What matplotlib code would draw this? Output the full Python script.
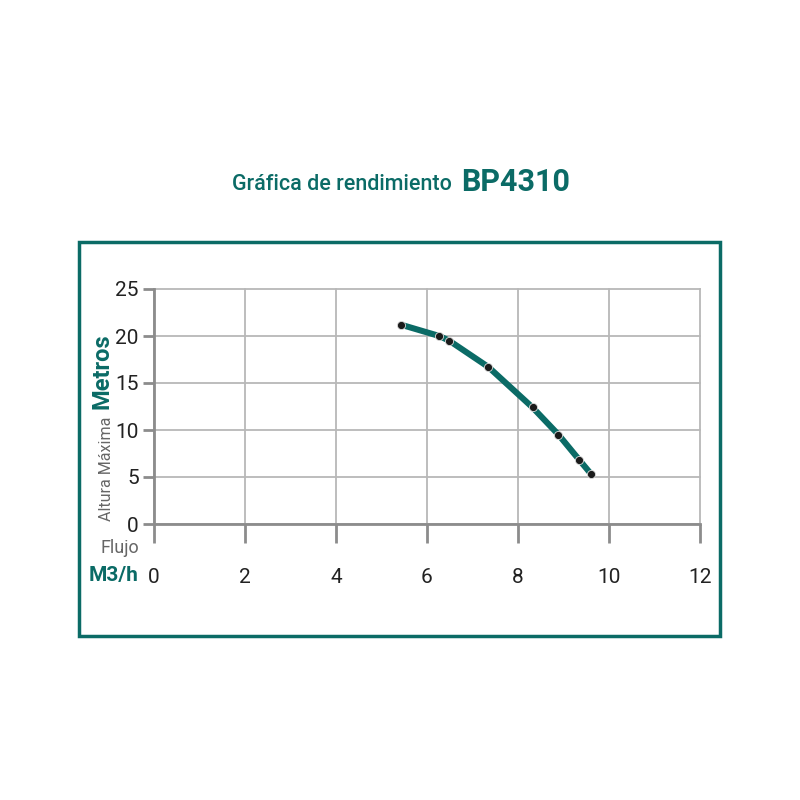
import matplotlib
matplotlib.use("Agg")
import matplotlib.pyplot as plt
from matplotlib.patches import Rectangle

# data
flow = [5.43, 6.27, 6.49, 7.35, 8.32, 8.89, 9.35, 9.60]
height = [21.2, 20.0, 19.5, 16.7, 12.4, 9.5, 6.8, 5.35]
x_ticks = [0, 2, 4, 6, 8, 10, 12]
y_ticks = [0, 5, 10, 15, 20, 25]

teal = "#0b6b66"
grey = "#8c8c8c"

plt.rcParams["font.family"] = ["Roboto", "DejaVu Sans"]

fig = plt.figure(figsize=(8, 8), dpi=100)
ax = fig.add_axes([154 / 800, 1 - 524 / 800, 546 / 800, 235 / 800])

ax.plot(flow, height, color=teal, lw=4.4, solid_capstyle="butt",
        solid_joinstyle="round", zorder=3)
ax.scatter(flow, height, s=34, color="#1a1a1a", edgecolor="#dddddd",
           linewidth=0.6, zorder=4)

ax.set_xlim(0, 12)
ax.set_ylim(0, 25)
ax.set_xticks(x_ticks)
ax.set_yticks(y_ticks)
ax.grid(True, color="#b8b8b8", lw=1.3)
for line in ax.get_xgridlines() + ax.get_ygridlines():
    line.set_clip_on(False)
ax.set_axisbelow(True)

for s in ["top", "right"]:
    ax.spines[s].set_visible(False)
for s in ["left", "bottom"]:
    ax.spines[s].set_color(grey)
    ax.spines[s].set_linewidth(2)

ax.tick_params(axis="x", direction="out", length=14, width=2, color=grey,
               pad=18, labelsize=15, labelcolor="#222222")
ax.tick_params(axis="y", direction="out", length=8, width=2, color=grey,
               pad=3, labelsize=15, labelcolor="#222222")

# y axis label: grey part + bold teal part, rotated
fig.text(114 / 800, 1 - 521 / 800, "Altura Máxima", rotation=90,
         ha="right", va="bottom", fontsize=11.5, color="#666666")
fig.text(114 / 800, 1 - 409 / 800, "Metros", rotation=90,
         ha="right", va="bottom", fontsize=17, fontweight="bold", color=teal)

# x axis label
fig.text(139 / 800, 1 - 548 / 800, "Flujo", ha="right", va="center",
         fontsize=13, color="#666666")
fig.text(139 / 800, 1 - 576 / 800, "M3/h", ha="right", va="center",
         fontsize=15, fontweight="bold", color=teal)

# title
fig.text(452 / 800, 1 - 185 / 800, "Gráfica de rendimiento", ha="right",
         va="center", fontsize=15.5, fontweight="medium", color=teal)
fig.text(461 / 800, 1 - 182 / 800, "BP4310", ha="left", va="center",
         fontsize=22, fontweight="bold", color=teal)

# frame around the chart
fig.patches.append(Rectangle((79 / 800, 1 - 636 / 800), 641 / 800, 394 / 800,
                             transform=fig.transFigure, fill=False,
                             edgecolor=teal, lw=2.5))

fig.savefig("out.png", dpi=100)
